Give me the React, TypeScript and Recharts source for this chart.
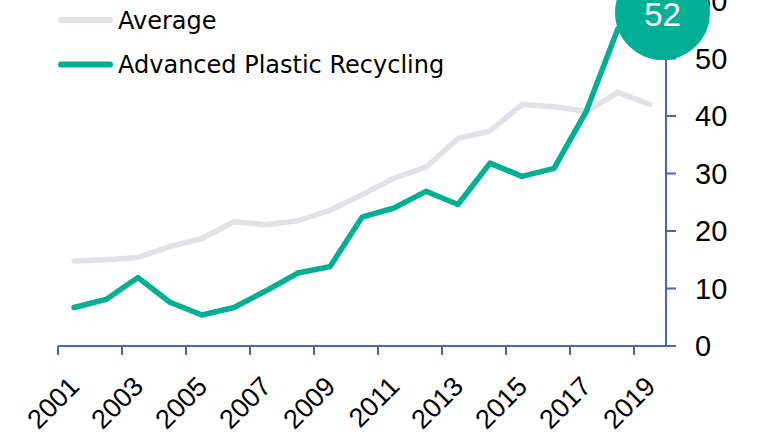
import React from 'react';
import { LineChart, Line, XAxis, YAxis, ReferenceDot, Legend } from 'recharts';

const years = ['2001','2002','2003','2004','2005','2006','2007','2008','2009','2010','2011','2012','2013','2014','2015','2016','2017','2018','2019'];
const averageValues = [14.8, 15.0, 15.4, 17.3, 18.7, 21.6, 21.1, 21.8, 23.6, 26.3, 29.2, 31.1, 36.1, 37.4, 42.0, 41.6, 40.8, 44.1, 42.0];
const recyclingValues = [6.7, 8.1, 11.9, 7.6, 5.4, 6.7, 9.6, 12.7, 13.8, 22.4, 24.0, 26.9, 24.6, 31.8, 29.5, 30.9, 40.7, 55.2, 52.0];
const yTicks = [0, 10, 20, 30, 40, 50, 60];
const seriesNames = ['Average', 'Advanced Plastic Recycling'];
const latestYear = '2019';
const latestValue = 52;

const W = 769;
const H = 433;
const ML = 58;
const YW = 103;
const MT = 1;
const XH = 87;
const BAND = (W - ML - YW) / years.length;

const AXIS = '#4A69AD';
const TEAL = '#00AF94';
const GRAY = '#E4E0E7';
const NUM_FONT = '"Liberation Sans", Arial, sans-serif';
const TXT_FONT = '"DejaVu Sans", Verdana, sans-serif';

const data = years.map((year, i) => ({
  year,
  average: averageValues[i],
  recycling: recyclingValues[i],
}));

const colors = [GRAY, TEAL];

const XTick = (props: any) => {
  const { x, y, payload } = props;
  const lx = x - BAND / 2;
  const ax = x + 7;
  const ay = y + 42;
  return (
    <g>
      <line x1={lx} y1={y} x2={lx} y2={y + 9} stroke={AXIS} strokeWidth={2} />
      <text
        x={ax}
        y={ay}
        transform={`rotate(-45 ${ax} ${ay})`}
        textAnchor="end"
        fontFamily={NUM_FONT}
        fontSize={27}
        fill="#000"
      >
        {payload.value}
      </text>
    </g>
  );
};

const Bubble = (props: any) => {
  const { cx, cy } = props;
  const bx = cx + 12.5;
  const by = cy - 34.5;
  return (
    <g>
      <circle cx={bx} cy={by} r={47.5} fill={TEAL} />
      <text
        x={bx}
        y={by + 2}
        textAnchor="middle"
        dominantBaseline="central"
        fontFamily={NUM_FONT}
        fontSize={33}
        fill="#fff"
      >
        {String(latestValue)}
      </text>
    </g>
  );
};

const renderLegend = () => (
  <svg width={470} height={90} style={{ display: 'block' }}>
    {seriesNames.map((name, i) => {
      const ly = 20 + i * 44.5;
      return (
        <g key={name}>
          <line x1={61} y1={ly} x2={110} y2={ly} stroke={colors[i]} strokeWidth={6} strokeLinecap="round" />
          <text x={118} y={ly + 8.5} fontFamily={TXT_FONT} fontSize={24} fill="#000">
            {name}
          </text>
        </g>
      );
    })}
  </svg>
);

export default function App() {
  return (
    <div style={{ position: 'absolute', left: 0, top: 0, width: W, height: H, background: '#fff' }}>
      <LineChart width={W} height={H} data={data} margin={{ top: MT, right: 0, bottom: 0, left: ML }}>
        <XAxis
          dataKey="year"
          type="category"
          interval={1}
          height={XH}
          padding={{ left: BAND / 2, right: BAND / 2 }}
          tickLine={false}
          tickSize={0}
          tickMargin={0}
          axisLine={{ stroke: AXIS, strokeWidth: 2 }}
          tick={<XTick />}
        />
        <YAxis
          orientation="right"
          width={YW}
          domain={[0, 60]}
          ticks={yTicks}
          interval={0}
          tickSize={10}
          tickMargin={19}
          axisLine={{ stroke: AXIS, strokeWidth: 2 }}
          tickLine={{ stroke: AXIS, strokeWidth: 2 }}
          tick={{ fontFamily: NUM_FONT, fontSize: 29, fill: '#000', textAnchor: 'start' }}
        />
        <Legend
          layout="vertical"
          align="center"
          verticalAlign="middle"
          content={renderLegend}
          wrapperStyle={{ position: 'absolute', left: 0, top: 0, width: 470, height: 90 }}
        />
        <Line
          dataKey="average"
          name={seriesNames[0]}
          type="linear"
          stroke={GRAY}
          strokeWidth={5.5}
          strokeLinejoin="round"
          strokeLinecap="round"
          dot={false}
          activeDot={false}
          isAnimationActive={false}
        />
        <Line
          dataKey="recycling"
          name={seriesNames[1]}
          type="linear"
          stroke={TEAL}
          strokeWidth={5.5}
          strokeLinejoin="round"
          strokeLinecap="round"
          dot={false}
          activeDot={false}
          isAnimationActive={false}
        />
        <ReferenceDot
          x={latestYear}
          y={latestValue}
          ifOverflow="visible"
          shape={<Bubble />}
          {...({ zIndex: 5000 } as any)}
        />
      </LineChart>
    </div>
  );
}
